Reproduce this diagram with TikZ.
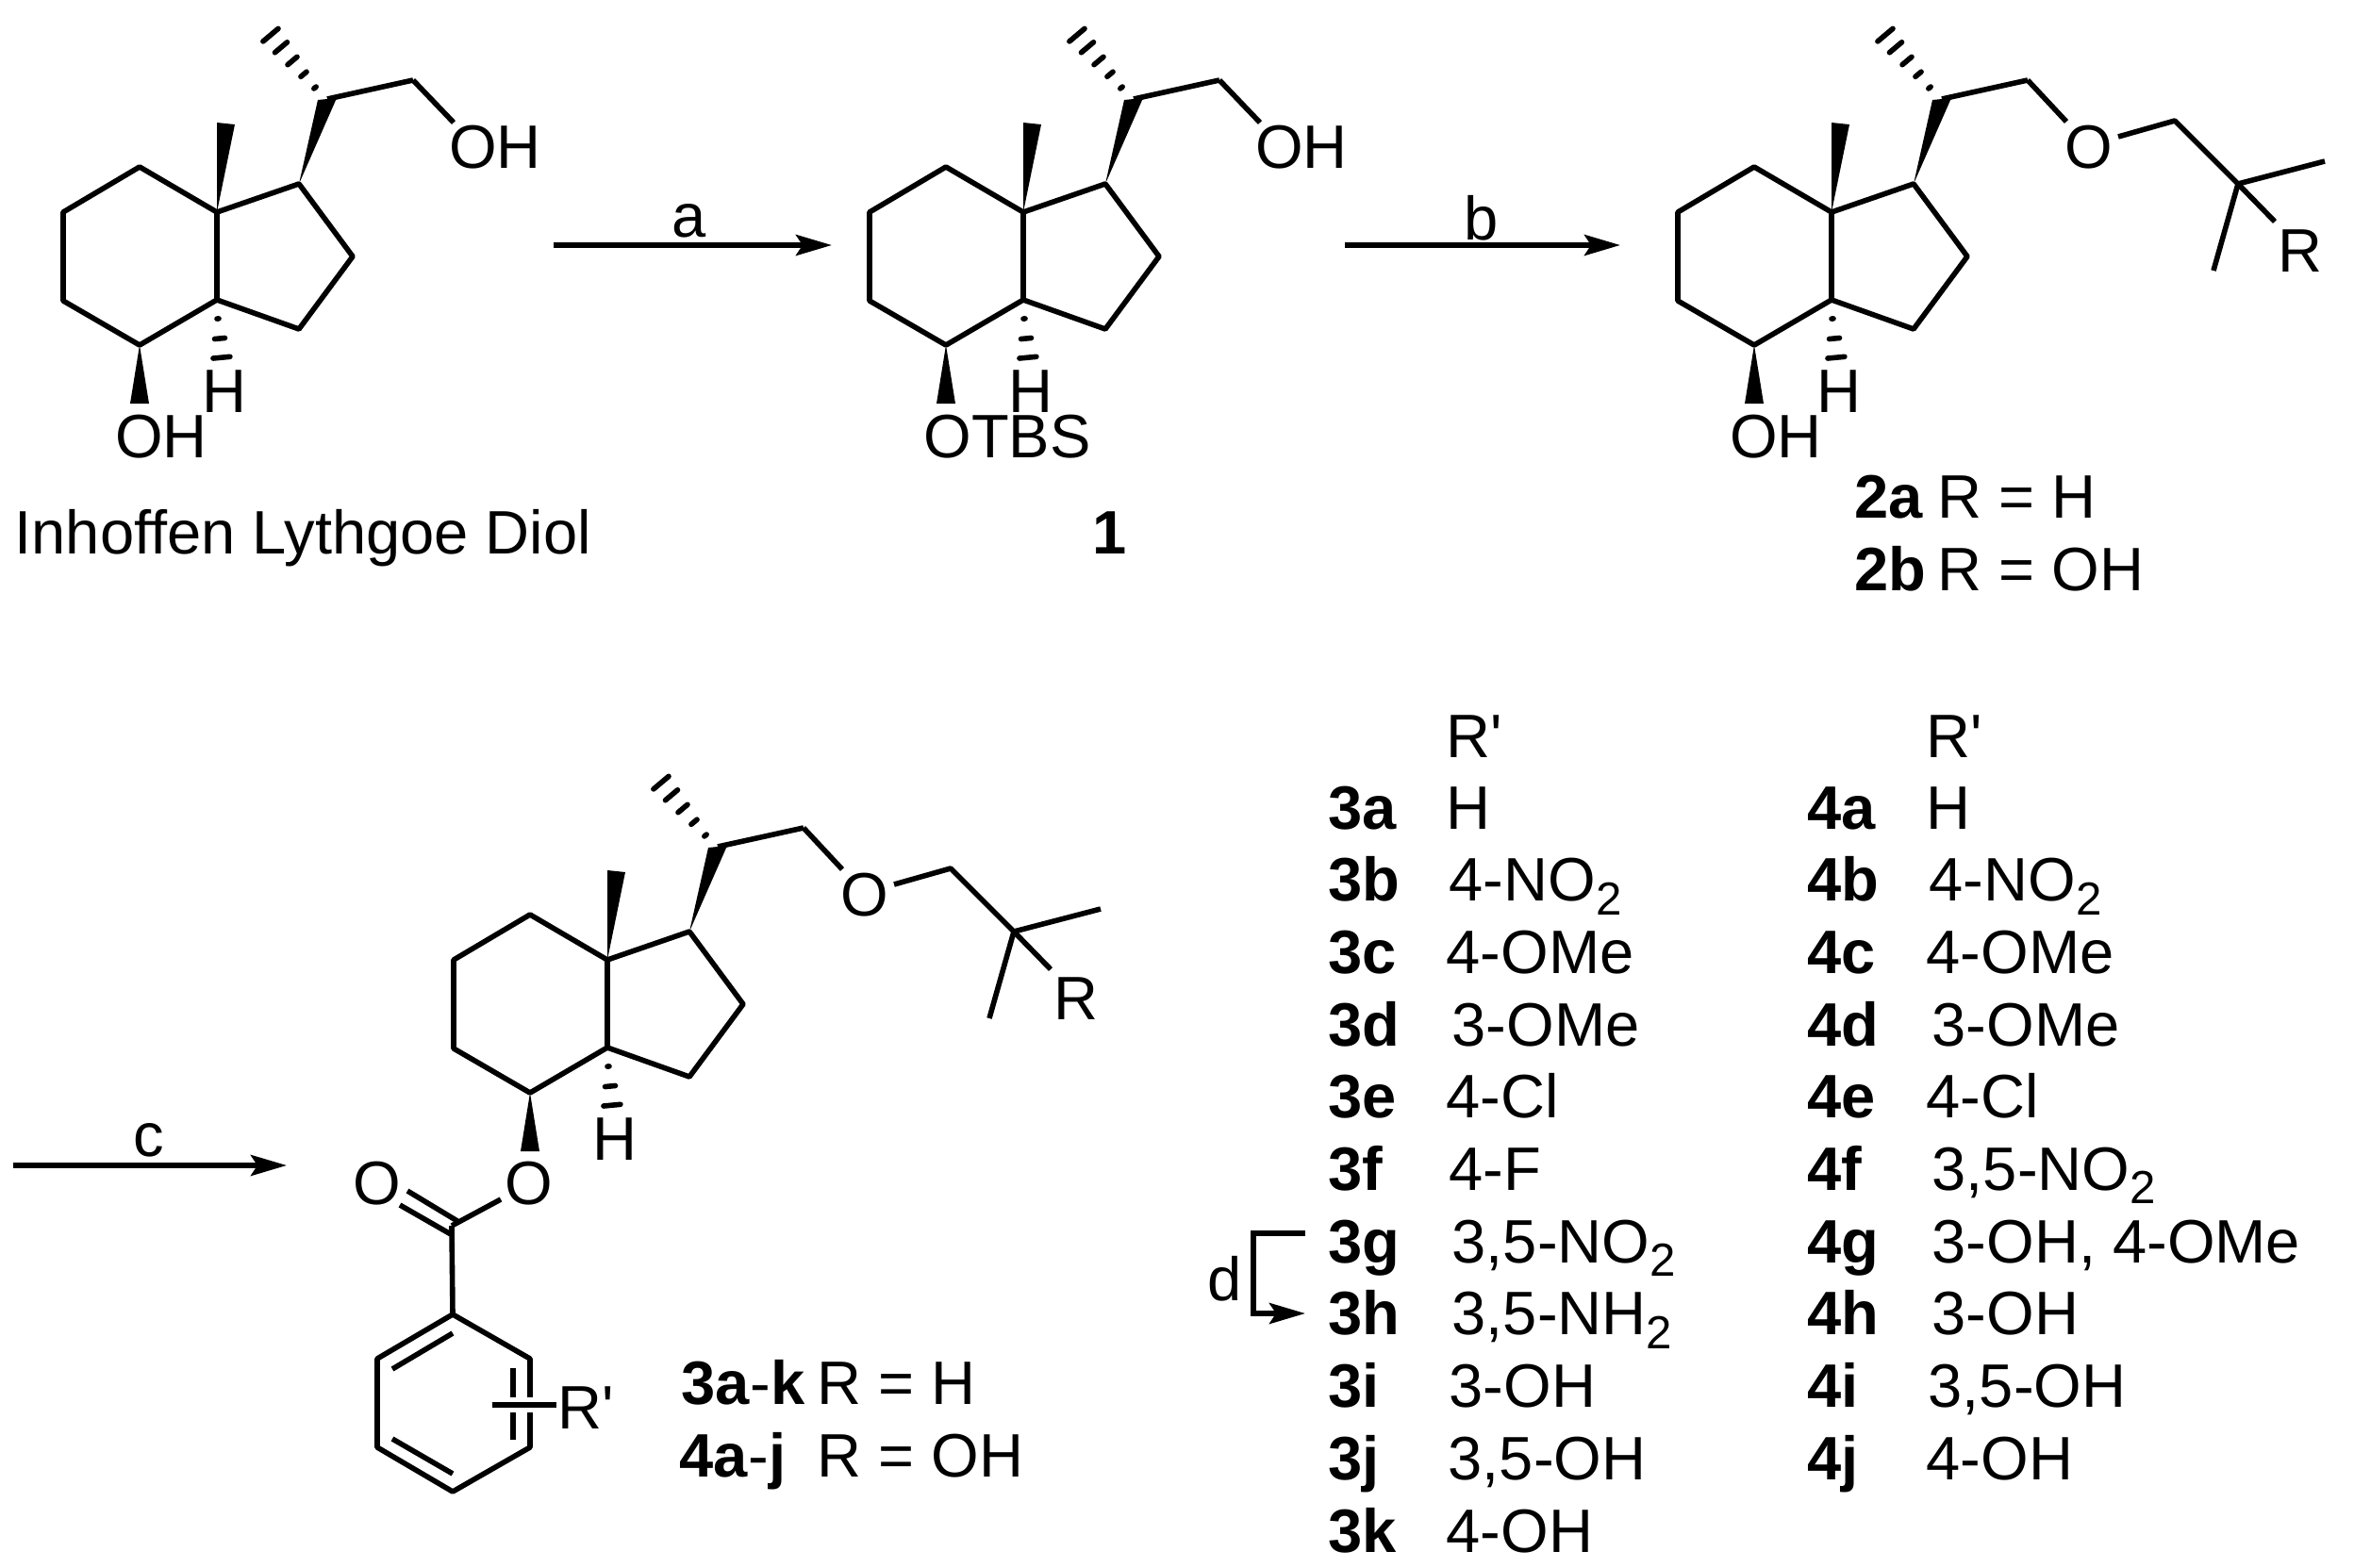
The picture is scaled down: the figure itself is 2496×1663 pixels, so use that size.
\documentclass[tikz,border=0pt]{standalone}
\usepackage{fontspec}
\setmainfont{Liberation Sans}
\usetikzlibrary{arrows.meta,calc}

\newcommand{\sbs}[1]{\raisebox{-.22em}{\fontsize{14}{15}\selectfont #1}}
\newcommand{\hashbond}[3]{
 \foreach \t/\w in {#3} {
  \draw [bond, line cap=round] ($(#1)!\t!(#2)!\w cm!90:(#2)$) -- ($(#1)!\t!(#2)!\w cm!-90:(#2)$);
 }
}
% hydrindane core with the side chain up to the second carbon
\newcommand{\hydrindane}{
 \coordinate (qc) at (230,225);
 \coordinate (jc) at (230,318);
 \coordinate (c1) at (148,177);
 \coordinate (c2) at (67,225);
 \coordinate (c3) at (67,319);
 \coordinate (c4) at (148,366);
 \coordinate (c5) at (317,195);
 \coordinate (c6) at (374,272);
 \coordinate (c7) at (317,349);
 \coordinate (ch) at (347,105);
 \coordinate (cm) at (438,85);
 \draw [bond] (qc) -- (c1) -- (c2) -- (c3) -- (c4) -- (jc) -- cycle;
 \draw [bond] (qc) -- (c5) -- (c6) -- (c7) -- (jc);
 \draw [bond] (ch) -- (cm);
 \coordinate (w1a) at (230,130);
 \coordinate (w1b) at (249,132);
 \coordinate (w2a) at (337,106);
 \coordinate (w2b) at (357,104);
 \coordinate (w3a) at (138,428);
 \coordinate (w3b) at (158,428);
 \fill (qc) -- (w1a) -- (w1b) -- cycle;
 \fill (c5) -- (w2a) -- (w2b) -- cycle;
 \fill (c4) -- (w3a) -- (w3b) -- cycle;
 \coordinate (h1a) at (334,93);
 \coordinate (h1b) at (286,36);
 \hashbond{h1a}{h1b}{0/.015,.25/.04,.5/.065,.75/.085,.98/.105}
 \coordinate (h2a) at (231,338);
 \coordinate (h2b) at (235,380);
 \hashbond{h2a}{h2b}{0/.01,.5/.055,.98/.09}
 \node [atom] (hj) at (238,415) {H};
}
% ether tail carrying R
\newcommand{\ethertail}{
 \node [atom] (ox) at (503,156) {O};
 \coordinate (o1) at (479,129);
 \coordinate (o2) at (534,145);
 \coordinate (cn) at (594,128);
 \coordinate (cq) at (661,195);
 \coordinate (me1) at (753,171);
 \coordinate (me2) at (635,287);
 \coordinate (r1) at (700,235);
 \node [atom] (rr) at (727,266) {R};
 \draw [bond] (cm) -- (o1);
 \draw [bond] (o2) -- (cn) -- (cq) -- (me1);
 \draw [bond] (cq) -- (me2);
 \draw [bond] (cq) -- (r1);
}

\begin{document}
\begin{tikzpicture}[
  x=.01cm, y=-.01cm,
  font=\fontsize{18.5}{20}\selectfont,
  bond/.style={line width=.056cm, line join=round},
  rxn/.style={line width=.056cm, -{Stealth[length=.38cm,width=.22cm,inset=.07cm]}},
  atom/.style={inner sep=0pt},
  lab/.style={inner sep=0pt, anchor=base west}
 ]
  \useasboundingbox (0,0) rectangle (2496,1663);

  \foreach \mol/\dx/\dy in {diol/0/0,tbs/855/0,ether/1712/0,ester/414/793} {
   \begin{scope}[shift={(\dx,\dy)}, name prefix=\mol-]
    \hydrindane
   \end{scope}
  }

  % Inhoffen Lythgoe diol
  \begin{scope}[name prefix=diol-]
   \coordinate (oh) at (481,130);
   \node [atom] (ohn) at (525,156) {OH};
   \draw [bond] (cm) -- (oh);
   \node [atom] (ohb) at (171,463) {OH};
  \end{scope}
  \node [lab] (diolname) at (15,587) {Inhoffen Lythgoe Diol};

  % compound 1
  \begin{scope}[shift={(855,0)}, name prefix=tbs-]
   \coordinate (oh) at (481,130);
   \node [atom] (ohn) at (525,156) {OH};
   \draw [bond] (cm) -- (oh);
  \end{scope}
  \node [atom] (otbs) at (1068,463) {OTBS};
  \node [lab, anchor=base] (one) at (1177,587) {\textbf{1}};

  % compound 2
  \begin{scope}[shift={(1712,0)}, name prefix=ether-]
   \ethertail
   \node [atom] (ohb) at (171,463) {OH};
  \end{scope}
  \node [lab] (twoa) at (1966,549) {\textbf{2a}};
  \node [lab] (twoar) at (2054,549) {R = H};
  \node [lab] (twob) at (1966,626) {\textbf{2b}};
  \node [lab] (twobr) at (2054,626) {R = OH};

  % compounds 3 and 4
  \begin{scope}[shift={(414,793)}, name prefix=ester-]
   \ethertail
  \end{scope}
  \node [atom] (oe) at (561,1255) {O};
  \node [atom] (oc) at (400,1255) {O};
  \coordinate (oel) at (531,1272);
  \coordinate (cc) at (479,1300);
  \coordinate (d1a) at (424,1278);
  \coordinate (d1b) at (478,1309);
  \coordinate (d2a) at (432,1263);
  \coordinate (d2b) at (485,1295);
  \draw [bond] (oel) -- (cc);
  \draw [bond] (d1a) -- (d1b);
  \draw [bond] (d2a) -- (d2b);
  \coordinate (b1) at (480,1394);
  \coordinate (b2) at (562,1441);
  \coordinate (b3) at (562,1535);
  \coordinate (b4) at (480,1582);
  \coordinate (b5) at (400,1535);
  \coordinate (b6) at (400,1441);
  \draw [bond] (cc) -- (b1);
  \draw [bond] (b1) -- (b2) -- (b3) -- (b4) -- (b5) -- (b6) -- cycle;
  \coordinate (i1a) at (416,1452);
  \coordinate (i1b) at (480,1414);
  \coordinate (i2a) at (416,1526);
  \coordinate (i2b) at (480,1563);
  \coordinate (i3a) at (544,1451);
  \coordinate (i3b) at (544,1527);
  \draw [bond] (i1a) -- (i1b);
  \draw [bond] (i2a) -- (i2b);
  \draw [bond] (i3a) -- (i3b);
  \coordinate (sa) at (522,1490);
  \coordinate (sb) at (590,1490);
  \draw [bond, preaction={draw, white, line width=.16cm}] (sa) -- (sb);
  \node [lab] (rp) at (591,1515) {R\textquotesingle};
  \node [lab] (tha) at (722,1489) {\textbf{3a}-\textbf{k}};
  \node [lab] (thar) at (866,1489) {R = H};
  \node [lab] (foa) at (720,1566) {\textbf{4a}-\textbf{j}};
  \node [lab] (foar) at (866,1566) {R = OH};

  % reaction arrows
  \coordinate (as) at (587,260);
  \coordinate (ae) at (882,260);
  \draw [rxn] (as) -- (ae);
  \node [lab, anchor=base] (al) at (731,251) {a};
  \coordinate (bs) at (1426,260);
  \coordinate (be) at (1718,260);
  \draw [rxn] (bs) -- (be);
  \node [lab, anchor=base] (bl) at (1571,254) {b};
  \coordinate (cs) at (14,1236);
  \coordinate (ce) at (304,1236);
  \draw [rxn] (cs) -- (ce);
  \node [lab, anchor=base] (cl) at (158,1226) {c};
  \coordinate (ds) at (1384,1308);
  \coordinate (dm) at (1329,1308);
  \coordinate (dn) at (1329,1393);
  \coordinate (de) at (1384,1393);
  \draw [rxn] (ds) -- (dm) -- (dn) -- (de);
  \node [atom] (dl) at (1299,1356) {d};

  % the two tables
  \node [lab] (hdr3) at (1533,803) {R\textquotesingle};
  \foreach \lb/\vx/\val [count=\i from 0] in {3a/1533/H,3b/1536/{4-NO\sbs{2}},3c/1533/4-OMe,3d/1539/3-OMe,
    3e/1533/4-Cl,3f/1536/4-F,3g/1539/{3,5-NO\sbs{2}},3h/1539/{3,5-NH\sbs{2}},3i/1536/3-OH,
    3j/1535/{3,5-OH},3k/1533/4-OH} {
   \node [lab] (n\lb) at (1408,879+76.7*\i) {\textbf{\lb}};
   \node [lab] (v\lb) at (\vx,879+76.7*\i) {\val};
  }
  \node [lab] (hdr4) at (2042,803) {R\textquotesingle};
  \foreach \lb/\vx/\val [count=\i from 0] in {4a/2042/H,4b/2045/{4-NO\sbs{2}},4c/2042/4-OMe,4d/2048/3-OMe,
    4e/2042/4-Cl,4f/2048/{3,5-NO\sbs{2}},4g/2048/{3-OH, 4-OMe},4h/2048/3-OH,
    4i/2044/{3,5-OH},4j/2042/4-OH} {
   \node [lab] (n\lb) at (1916,879+76.7*\i) {\textbf{\lb}};
   \node [lab] (v\lb) at (\vx,879+76.7*\i) {\val};
  }
 \end{tikzpicture}
\end{document}
